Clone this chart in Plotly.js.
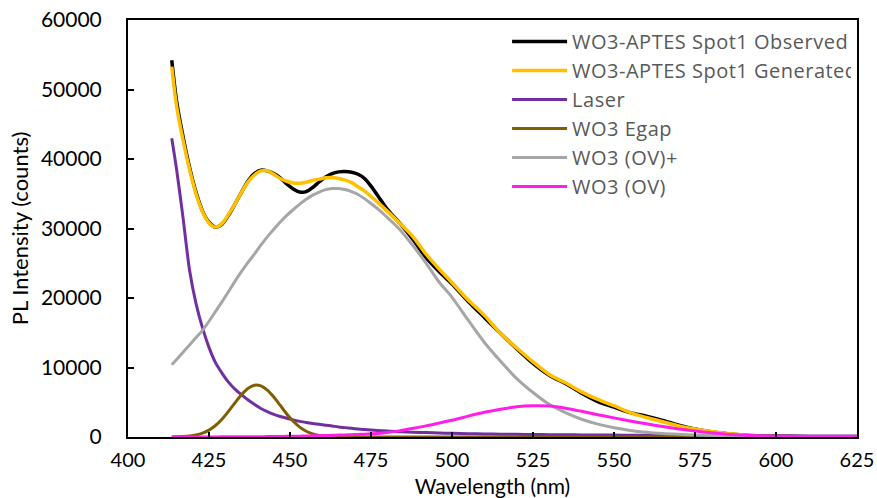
<!DOCTYPE html>
<html>
<head>
<meta charset="utf-8">
<script src="https://cdn.plot.ly/plotly-3.0.1.min.js"></script>
<style>html,body{margin:0;padding:0;background:#fff;overflow:hidden;}#chart{width:877px;height:498px;}
#chart .legendtext{letter-spacing:0.5px;}</style>
</head>
<body>
<div id="chart"></div>
<script>
const wavelength = [413.5,415,417,419,421,423,425,427,429,431,433,435,437,439,441,443,445,447,449,451,453,455,457,459,461,463,465,467,469,471,473,475,477,480,484,488,492,496,500,505,510,515,520,525,530,535,540,545,550,555,560,565,570,575,580,585,590,595,600,610,625];

const observed = [54200,48300,43200,38800,35200,32500,30900,30200,30600,31900,33500,35200,36800,37900,38400,38300,37900,37300,36400,35700,35250,35300,35900,36700,37400,37900,38150,38200,38100,37800,37200,36100,34800,32800,30700,28400,25800,23800,22000,19500,17200,14900,12700,10600,8900,7700,6300,5100,4300,3500,3000,2400,1700,1150,750,480,280,160,90,30,10];

const generated = [53300,47600,42700,38500,35000,32400,30800,30200,30700,32000,33500,35200,36700,37700,38300,38300,37800,37200,36800,36550,36500,36650,36900,37100,37300,37350,37200,36950,36600,36000,35400,34600,33800,32500,30700,28800,26300,24200,22200,19700,17500,14900,12800,10800,9000,7800,6500,5400,4500,3500,2800,2200,1600,1150,780,500,300,180,110,40,10];

const laser = [43000,38500,31500,24000,19200,15700,12900,10700,9200,7900,6900,6100,5350,4700,4100,3650,3250,2950,2700,2450,2250,2100,1950,1820,1700,1580,1450,1350,1250,1150,1070,1000,930,850,760,690,630,580,530,480,440,410,380,360,340,320,300,285,270,255,240,230,220,210,200,190,180,175,170,160,150];

const egap = [12,25,60,135,280,545,985,1650,2550,3680,4910,6080,6990,7440,7360,6750,5750,4540,3320,2260,1420,830,450,230,105,46,18,7,3,0,0,0,0,0,0,0,0,0,0,0,0,0,0,0,0,0,0,0,0,0,0,0,0,0,0,0,0,0,0,0,0];

const ovPlus = [10400,11150,12200,13250,14300,15350,16650,18050,19450,20900,22400,23800,25100,26300,27600,28800,29900,30950,31900,32700,33500,34200,34800,35250,35600,35750,35750,35600,35300,34900,34300,33600,32850,31600,29800,27500,25000,22300,20100,16800,13600,10900,8400,6400,4700,3500,2550,1850,1330,950,680,500,380,280,200,140,100,70,50,20,5];

const ov = [0,0,0,5,5,8,10,15,18,22,28,34,42,50,50,58,68,80,95,110,125,145,165,190,215,240,270,300,335,370,410,455,505,640,920,1250,1600,2000,2400,3000,3550,4000,4350,4480,4450,4150,3700,3200,2750,2300,1900,1500,1150,850,600,400,260,160,100,40,10];

const seriesNames = ["WO3-APTES Spot1 Observed","WO3-APTES Spot1 Generated","Laser","WO3 Egap","WO3 (OV)+","WO3 (OV)"];
const seriesData = [observed, generated, laser, egap, ovPlus, ov];
const seriesColors = ["#000000","#FFC000","#7030A0","#7F6000","#A6A6A6","#FF1EE8"];
const seriesWidths = [3.5,3.5,3,3,3,3];

const xTicks = [400,425,450,475,500,525,550,575,600,625];
const yTicks = [0,10000,20000,30000,40000,50000,60000];

const traces = seriesData.map((d,i)=>({
  x: wavelength, y: d, type:'scatter', mode:'lines', name: seriesNames[i],
  line:{color: seriesColors[i], width: seriesWidths[i], shape:'spline', smoothing:0.8}
}));

const fontFam = 'Lato, "Open Sans", sans-serif';
const layout = {
  width:877, height:498,
  margin:{l:128, r:20, t:20, b:61},
  paper_bgcolor:'#fff', plot_bgcolor:'#fff',
  font:{family:fontFam, size:20, color:'#000'},
  showlegend:true,
  legend:{x:0.52, y:0.995, xanchor:'left', yanchor:'top', bgcolor:'rgba(0,0,0,0)',
    font:{family:'"Open Sans", Lato, sans-serif', size:20, color:'#595959'}, tracegroupgap:0, itemwidth:55},
  xaxis:{range:[400,625], tickvals:xTicks, ticktext:xTicks.map(String),
    showline:true, linecolor:'#000', linewidth:2, mirror:true,
    ticks:'inside', ticklen:5, tickwidth:2, tickcolor:'#000',
    showgrid:false, zeroline:false, ticklabelstandoff:4,
    tickfont:{family:fontFam, size:20, color:'#000'},
    title:{text:'Wavelength (nm)', font:{family:fontFam, size:21, color:'#000'}, standoff:13}},
  yaxis:{range:[0,60000], tickvals:yTicks, ticktext:yTicks.map(String),
    showline:true, linecolor:'#000', linewidth:2, mirror:true,
    ticks:'inside', ticklen:6, tickwidth:2, tickcolor:'#000',
    showgrid:false, zeroline:false, ticklabelstandoff:20,
    tickfont:{family:fontFam, size:21, color:'#000'},
    title:{text:'PL Intensity (counts)', font:{family:fontFam, size:22, color:'#000'}, standoff:6}}
};
Plotly.newPlot('chart', traces, layout, {staticPlot:true, displayModeBar:false});
</script>
</body>
</html>
